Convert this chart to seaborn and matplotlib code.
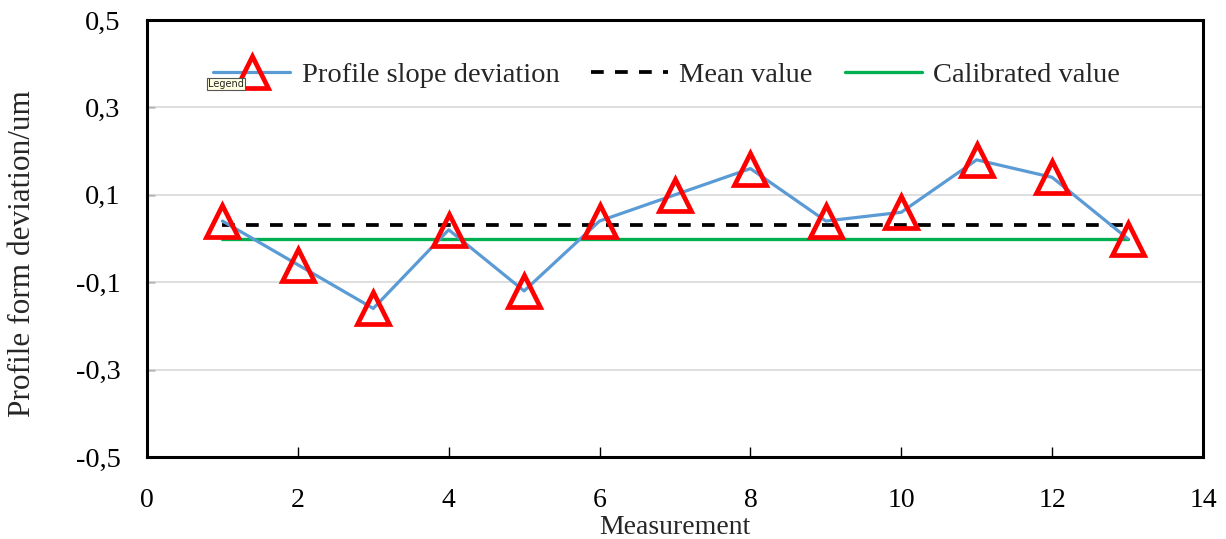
import matplotlib
matplotlib.use("Agg")
import matplotlib.pyplot as plt
import matplotlib.ticker as mticker
import seaborn as sns
import pandas as pd

measurement = [1, 2, 3, 4, 5, 6, 7, 8, 9, 10, 11, 12, 13]
deviation = [0.04, -0.06, -0.16, 0.02, -0.12, 0.04, 0.10, 0.16, 0.04, 0.06, 0.18, 0.14, 0.0]
mean_value = [0.03, 0.03]
calibrated_value = [0.0, 0.0]
ref_x = [1, 13]
y_ticks = [-0.5, -0.3, -0.1, 0.1, 0.3, 0.5]
x_ticks = [0, 2, 4, 6, 8, 10, 12, 14]

sns.set_theme(style="white")
plt.rcParams['font.family'] = ['Liberation Serif', 'DejaVu Serif']

fig = plt.figure(figsize=(12.26, 5.39), dpi=100)
ax = fig.add_axes([0.1199, 0.152, 0.8613, 0.811])

df = pd.DataFrame({"x": measurement, "y": deviation})
dref = pd.DataFrame({"x": ref_x, "mean": mean_value, "cal": calibrated_value})

sns.lineplot(data=dref, x="x", y="mean", ax=ax, color="black", lw=2.7,
             dashes=False, linestyle=(0, (3.4, 3.0)), label="Mean value", zorder=3)
sns.lineplot(data=dref, x="x", y="cal", ax=ax, color="#00B050", lw=2.4,
             label="Calibrated value", zorder=3)
sns.lineplot(data=df, x="x", y="y", ax=ax, color="#5B9BD5", lw=2.3,
             marker="^", markersize=23, markerfacecolor="none",
             markeredgecolor="#FF0000", markeredgewidth=3.4,
             label="Profile slope deviation", zorder=4)

ax.set_xlim(0, 14)
ax.set_ylim(-0.5, 0.5)
ax.set_xticks(x_ticks)
ax.set_yticks(y_ticks)
ax.yaxis.set_major_formatter(mticker.FuncFormatter(lambda v, p: f"{v:.1f}".replace(".", ",")))
ax.set_xticklabels([str(t) for t in x_ticks])

for yv in y_ticks[1:-1]:
    ax.axhline(yv, color="#D9D9D9", lw=1.2, zorder=1)

for s in ax.spines.values():
    s.set_visible(True)
    s.set_color("black")
    s.set_linewidth(2.2)

ax.tick_params(axis="y", direction="in", length=6, width=1, left=True,
               labelsize=20.5, pad=19, colors="black")
ax.tick_params(axis="x", direction="in", length=7, width=1, bottom=True,
               labelsize=20, pad=22, colors="black")

ax.set_xlabel("Measurement", fontsize=20, labelpad=2)
ax.set_ylabel("Profile form deviation/um", fontsize=22.5)
ax.yaxis.label.set(va="center", ha="center")
ax.yaxis.set_label_coords(-0.118, 0.466)

h, l = ax.get_legend_handles_labels()
order = [l.index("Profile slope deviation"), l.index("Mean value"), l.index("Calibrated value")]
ax.legend([h[i] for i in order], [l[i] for i in order], ncol=3, frameon=False,
          loc="center", bbox_to_anchor=(0.492, 0.874), fontsize=20.5,
          handlelength=2.7, handletextpad=0.4, columnspacing=1.12)

fig.text(208 / 1226, 1 - 84 / 539, "Legend", fontsize=7, family="DejaVu Sans",
         va="center", ha="left",
         bbox=dict(boxstyle="square,pad=0.15", fc="#FFFFE1", ec="#555555", lw=0.8),
         zorder=10)

fig.savefig("out.png", dpi=100, facecolor="white")
